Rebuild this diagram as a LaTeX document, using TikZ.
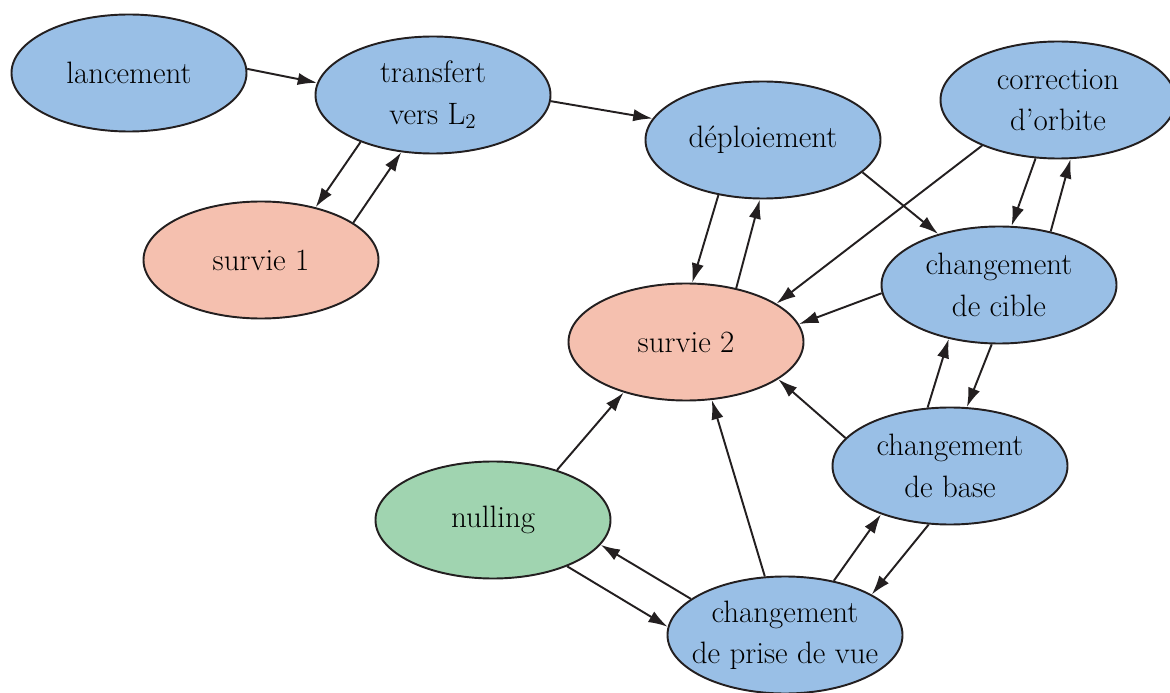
\documentclass[tikz,border=0pt]{standalone}
\usepackage{tikz}
\usepackage{xcolor}
\usetikzlibrary{shapes.geometric, positioning, arrows.meta}

\definecolor{phaseblue}{HTML}{99BFE6}
\definecolor{survsalmon}{HTML}{F5C0AF}
\definecolor{nullgreen}{HTML}{A0D4B0}
\definecolor{inkdark}{HTML}{231F20}

\tikzset{
  phase/.style={ellipse, draw=inkdark, line width=1.1pt, fill=phaseblue,
    minimum width=4.7cm, minimum height=2.34cm, inner xsep=-0.3cm, inner ysep=0pt,
    align=center, font=\fontsize{17.6}{23.5}\selectfont},
  survie/.style={phase, fill=survsalmon},
  nullphase/.style={phase, fill=nullgreen},
  flow/.style={-{Latex[length=11pt,width=7pt]},
    every edge/.append style={draw=inkdark, line width=1.1pt}}
}

\begin{document}
\begin{tikzpicture}[on grid]
			\useasboundingbox (0,0) rectangle (23.4,-13.86);
			\node[phase] (lanc) at (2.58,-1.46) {lancement};
			\node[phase] (transf) [below right=0.44cm and 6.08cm of lanc] {transfert\\vers L$_2$};
			\node[survie] (surv1) [below left=3.30cm and 3.44cm of transf] {survie 1};
			\node[phase] (depl) [below right=0.90cm and 6.60cm of transf] {déploiement};
			\node[phase] (corr) [above right=0.80cm and 5.90cm of depl] {correction\\d’orbite};
			\node[phase] (cible) [below right=2.90cm and 4.72cm of depl] {changement\\de cible};
			\node[survie] (surv2) [below left=4.04cm and 1.54cm of depl] {survie 2};
			\node[phase] (base) [below left=3.62cm and 0.98cm of cible] {changement\\de base};
			\node[nullphase] (null) [below left=3.56cm and 3.86cm of surv2] {nulling};
			\node[phase] (prise) [below right=5.86cm and 1.98cm of surv2] {changement\\de prise de vue};
			
			\path[flow]
			(lanc.2) edge (transf.174)
			(transf.213) edge (surv1.44)
			(surv1.22) edge (transf.241)
			(transf.357) edge (depl.169)
			(depl.231) edge (surv2.84)
			(surv2.47) edge (depl.267)
			(depl.342) edge (cible.140)
			(corr.211) edge (surv2.23)
			(corr.249) edge (cible.78)
			(cible.46) edge (corr.282)
			(cible.184) edge (surv2.9)
			(base.111) edge (cible.227)
			(cible.263) edge (base.74)
			(base.165) edge (surv2.338)
			(null.38) edge (surv2.219)
			(prise.109) edge (surv2.294)
			(prise.159) edge (null.347)
			(null.328) edge (prise.176)
			(prise.48) edge (base.215)
			(base.250) edge (prise.25);
		\end{tikzpicture}
\end{document}
